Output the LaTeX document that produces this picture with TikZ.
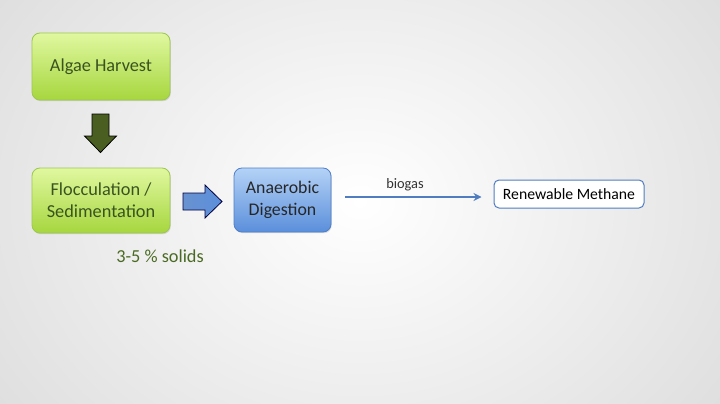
\documentclass[tikz,border=0pt]{standalone}
\usepackage{fontspec}
\setmainfont{Carlito}
\usetikzlibrary{arrows.meta,shadows,calc}
\definecolor{greenTop}{HTML}{E0F8A0}
\definecolor{greenBot}{HTML}{A6D63E}
\definecolor{greenEdge}{HTML}{9CC850}
\definecolor{greenText}{HTML}{3A5320}
\definecolor{blueTop}{HTML}{B4D2F6}
\definecolor{blueBot}{HTML}{5B8FDB}
\definecolor{blueEdge}{HTML}{4E7FC8}
\definecolor{lineBlue}{HTML}{4F7DC0}
\definecolor{olive}{HTML}{4B5E22}
\definecolor{solidsText}{HTML}{4A6A22}
\begin{document}
\begin{tikzpicture}[x=1pt,y=-1pt,
  greenbox/.style={draw=greenEdge, line width=0.8pt, rounded corners=8pt,
    top color=greenTop, bottom color=greenBot, text=greenText,
    minimum width=138pt, align=center, font=\fontsize{18.3}{22}\selectfont,
    drop shadow={shadow xshift=0.8pt, shadow yshift=-1.2pt, opacity=0.25}},
  bluebox/.style={draw=blueEdge, line width=0.8pt, rounded corners=8pt,
    top color=blueTop, bottom color=blueBot, text=black!85,
    minimum width=97pt, minimum height=64pt, align=center, font=\fontsize{17.8}{22}\selectfont,
    drop shadow={shadow xshift=0.8pt, shadow yshift=-1.2pt, opacity=0.25}},
  outbox/.style={draw=lineBlue, line width=1pt, rounded corners=5pt, fill=white,
    minimum width=150pt, minimum height=28pt, font=\fontsize{15.7}{18}\selectfont, text=black},
  blockarrow/.style={line width=0.8pt, line join=miter}
]
\useasboundingbox (0,0) rectangle (720,404);
\begin{scope}
\clip (0,0) rectangle (720,404);
\shade[inner color=white, outer color=black!16] (-200,-250) rectangle (920,654);
\end{scope}

\node[greenbox, minimum height=67pt] (harvest) at (101,66.5) {Algae Harvest};
\node[greenbox, minimum height=65pt] (floc) at (101,200.5) {Flocculation /\\Sedimentation};
\node[bluebox] (ad) at (282.5,200) {Anaerobic\\Digestion};
\node[outbox] (meth) at (569,194) {Renewable Methane};
\node[text=solidsText, font=\fontsize{18.3}{22}\selectfont] (solids) at (160,256) {3-5 \% solids};

% down arrow
\draw[blockarrow, draw=black, fill=olive]
  (92,114) -- (109,114) -- (109,136) -- (116.5,136) -- (100.5,152.5) -- (84.5,136) -- (92,136) -- cycle;
% right arrow
\draw[blockarrow, draw=black!75!blue, left color=blueEdge!85, right color=blueBot]
  (183,193) -- (205,193) -- (205,185) -- (222,201.5) -- (205,218) -- (205,210) -- (183,210) -- cycle;

% biogas arrow
\coordinate (bstart) at ($(ad.east)+(14,-3)$);
\coordinate (bend) at ($(meth.west)+(-12,3)$);
\draw[lineBlue, line width=1.2pt, -{Stealth[length=8pt,width=8pt]}] (bstart) -- (bend);
\node[font=\fontsize{14.4}{16}\selectfont, text=black!80] (biolbl) at (405,185) {biogas};
\end{tikzpicture}
\end{document}
